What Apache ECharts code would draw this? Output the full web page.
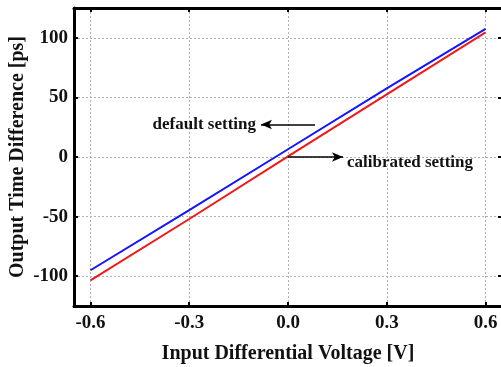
<!DOCTYPE html>
<html><head><meta charset="utf-8">
<script src="https://cdn.jsdelivr.net/npm/echarts@6/dist/echarts.min.js"></script>
<style>html,body{margin:0;padding:0;background:#fff}#c{width:501px;height:367px}</style>
</head><body><div id="c"></div>
<script>
var xValues = [-0.6, -0.3, 0.0, 0.3, 0.6];
var defaultSetting = [-95, -44.5, 6.5, 57.5, 107.5];
var calibratedSetting = [-103.5, -52, 0.5, 52.5, 104.5];
var xTicks = [-0.6, -0.3, 0.0, 0.3, 0.6];
var yTicks = [-100, -50, 0, 50, 100];
var labelDefault = 'default setting';
var labelCalibrated = 'calibrated setting';
var xTitle = 'Input Differential Voltage [V]';
var yTitle = 'Output Time Difference [ps]';

var font = 'Liberation Serif, Times New Roman, serif';
var chart = echarts.init(document.getElementById('c'), null, {renderer: 'canvas'});
function pairs(ys){ return xValues.map(function(x,i){ return [x, ys[i]]; }); }
var axisLine = {show: true, onZero: false, lineStyle: {color: '#000', width: 3}};
var tickStyle = {show: true, inside: true, length: 4, lineStyle: {color: '#000', width: 2}};
var gridLine = {show: true, lineStyle: {color: '#b0b0b0', width: 1, type: [2, 2]}};
chart.setOption({
  animation: false,
  grid: {left: 74, top: 8, right: -1, bottom: 61, containLabel: false, outerBoundsMode: 'none'},
  xAxis: [{
    type: 'value', min: -0.65, max: 0.65, position: 'bottom',
    name: xTitle, nameLocation: 'middle', nameGap: 38, nameMoveOverlap: false,
    nameTextStyle: {fontFamily: font, fontWeight: 'bold', fontSize: 20, color: '#111'},
    axisLine: axisLine, axisTick: Object.assign({}, tickStyle, {customValues: xTicks}),
    axisLabel: {customValues: xTicks, margin: 8, fontFamily: font, fontWeight: 'bold', fontSize: 19, color: '#111',
      formatter: function(v){ return v.toFixed(1); }},
    splitLine: gridLine
  }, {
    type: 'value', min: -0.65, max: 0.65, position: 'top',
    axisLine: axisLine, axisTick: Object.assign({}, tickStyle, {customValues: xTicks}),
    axisLabel: {show: false}, splitLine: {show: false}
  }],
  yAxis: [{
    type: 'value', min: -125, max: 125, position: 'left',
    name: yTitle, nameLocation: 'middle', nameGap: 46, nameRotate: 90, nameMoveOverlap: false,
    nameTextStyle: {fontFamily: font, fontWeight: 'bold', fontSize: 20, color: '#111'},
    axisLine: axisLine, axisTick: Object.assign({}, tickStyle, {customValues: yTicks}),
    axisLabel: {customValues: yTicks, margin: 6, fontFamily: font, fontWeight: 'bold', fontSize: 19, color: '#111'},
    splitLine: gridLine
  }, {
    type: 'value', min: -125, max: 125, position: 'right',
    axisLine: axisLine, axisTick: Object.assign({}, tickStyle, {customValues: yTicks}),
    axisLabel: {show: false}, splitLine: {show: false}
  }],
  series: [{
    type: 'line', name: labelDefault, data: pairs(defaultSetting), showSymbol: false,
    lineStyle: {color: '#1414ff', width: 2}, itemStyle: {color: '#1414ff'},
    markLine: {
      silent: true, symbol: ['arrow', 'none'], symbolSize: [7, 11],
      lineStyle: {color: '#000', width: 1.5, type: 'solid'},
      label: {show: true, position: 'start', distance: 5, formatter: labelDefault,
        fontFamily: font, fontWeight: 'bold', fontSize: 17, color: '#111'},
      data: [[{coord: [-0.082, 27.3]}, {coord: [0.082, 27.3]}]]
    }
  }, {
    type: 'line', name: labelCalibrated, data: pairs(calibratedSetting), showSymbol: false,
    lineStyle: {color: '#f01818', width: 2}, itemStyle: {color: '#f01818'},
    markLine: {
      silent: true, symbol: ['none', 'arrow'], symbolSize: [7, 11],
      lineStyle: {color: '#000', width: 1.5, type: 'solid'},
      label: {show: true, position: 'end', distance: 4, offset: [0, 6], formatter: labelCalibrated,
        fontFamily: font, fontWeight: 'bold', fontSize: 17, color: '#111'},
      data: [[{coord: [0.0, 0]}, {coord: [0.167, 0]}]]
    }
  }]
});
</script></body></html>
